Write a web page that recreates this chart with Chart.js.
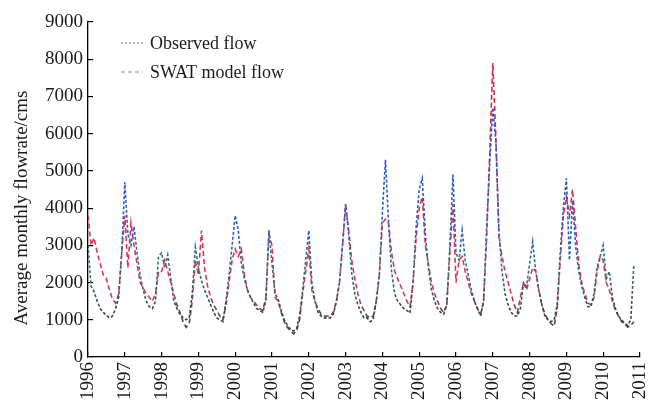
<!DOCTYPE html>
<html>
<head>
<meta charset="utf-8">
<script src="https://cdn.jsdelivr.net/npm/chart.js@4.4.1/dist/chart.umd.min.js"></script>
<style>
  html, body { margin: 0; padding: 0; background: #fff; }
  #wrap { width: 648px; height: 407px; position: relative; }
</style>
</head>
<body>
<div id="wrap"><canvas id="flowChart"></canvas></div>
<script>
// ============================================
// DATA — monthly flow, Jan 1996 .. Nov 2010
// ============================================
const startYear = 1996;
const yearTicks = [1996, 1997, 1998, 1999, 2000, 2001, 2002, 2003, 2004, 2005, 2006, 2007, 2008, 2009, 2010, 2011];
const seriesNames = ['Observed flow', 'SWAT model flow'];
const yTitle = 'Average monthly flowrate/cms';

const observedFlow = [
    3000, 1900, 1750, 1500, 1300, 1200, 1120, 1050, 1100, 1300, 1600, 2800,   // 1996
    4700, 3300, 3000, 3500, 2800, 2200, 1800, 1500, 1350, 1300, 1500, 2700,   // 1997
    2800, 2400, 2750, 2100, 1500, 1300, 1150, 1050, 1000, 1050, 1700, 2950,   // 1998
    2400, 2050, 1800, 1600, 1400, 1200, 1050, 1000, 950, 1500, 2200, 3000,    // 1999
    3800, 3400, 2500, 2100, 1800, 1600, 1450, 1300, 1250, 1200, 1500, 3400,   // 2000
    2500, 1700, 1550, 1250, 1000, 850, 750, 700, 750, 1100, 1800, 2600,       // 2001
    3400, 2000, 1500, 1200, 1100, 1050, 1050, 1050, 1150, 1500, 2000, 3000,   // 2002
    4100, 3300, 2250, 1700, 1400, 1200, 1050, 1050, 950, 1000, 1500, 2200,    // 2003
    3900, 5300, 3600, 2300, 1700, 1500, 1400, 1300, 1250, 1180, 2000, 3500,   // 2004
    4500, 4800, 3300, 2400, 1800, 1500, 1300, 1200, 1150, 1400, 3000, 4900,   // 2005
    2800, 2600, 3400, 2600, 2200, 1800, 1500, 1300, 1100, 1500, 3500, 5200,   // 2006
    6700, 5800, 3400, 2300, 1700, 1400, 1200, 1100, 1100, 1300, 2000, 1900,   // 2007
    2500, 3100, 2300, 1800, 1400, 1100, 1000, 950, 1000, 1400, 2800, 4000,    // 2008
    4800, 2600, 4200, 3000, 2300, 1900, 1600, 1350, 1350, 1700, 2400, 2700,   // 2009
    3000, 2100, 2300, 1600, 1300, 1100, 1000, 900, 850, 1000, 2500            // 2010
];

const swatFlow = [
    3800, 3000, 3200, 2800, 2500, 2200, 2100, 1800, 1550, 1450, 1700, 2800,   // 1996
    3800, 2400, 3600, 3000, 2500, 2000, 1850, 1700, 1600, 1500, 1700, 2300,   // 1997
    2300, 2600, 2300, 2000, 1700, 1400, 1200, 950, 800, 900, 1500, 2600,      // 1998
    2200, 3400, 2400, 1900, 1600, 1400, 1250, 1100, 1000, 1400, 2000, 2600,   // 1999
    2900, 2700, 2900, 2200, 1800, 1600, 1500, 1400, 1300, 1250, 1600, 3300,   // 2000
    3000, 1600, 1500, 1200, 950, 800, 700, 620, 700, 1000, 1700, 2300,        // 2001
    2900, 1800, 1500, 1300, 1150, 1100, 1100, 1100, 1200, 1500, 2000, 3000,   // 2002
    4100, 3400, 2600, 2100, 1700, 1400, 1250, 1100, 1050, 1100, 1500, 2200,   // 2003
    3600, 3700, 3600, 2800, 2300, 2100, 1900, 1700, 1500, 1350, 2000, 3200,   // 2004
    4000, 4300, 3000, 2500, 2000, 1700, 1500, 1300, 1200, 1400, 2800, 4100,   // 2005
    2000, 2600, 2700, 2300, 2000, 1700, 1500, 1300, 1150, 1500, 3200, 5500,   // 2006
    7900, 5900, 3200, 2700, 2300, 2000, 1700, 1400, 1200, 1600, 2000, 1800,   // 2007
    2100, 2400, 2300, 1800, 1400, 1150, 1000, 900, 830, 1300, 2600, 3800,     // 2008
    4300, 3800, 4500, 3500, 2500, 2000, 1700, 1450, 1400, 1600, 2300, 2700,   // 2009
    2600, 2000, 1800, 1500, 1250, 1100, 950, 900, 800, 850, 950               // 2010
];

const toPoints = arr => arr.map((v, i) => ({ x: startYear + i / 12, y: v }));

// vertical colour ramp, low flow grey -> high flow colour
function flowGradient(stops) {
    return function(ctx) {
        const chart = ctx.chart;
        const { chartArea, scales } = chart;
        if (!chartArea || !scales.y) return stops[stops.length - 1][1];
        const y = scales.y;
        const top = y.getPixelForValue(y.max), bottom = y.getPixelForValue(y.min);
        const g = chart.ctx.createLinearGradient(0, bottom, 0, top);
        stops.forEach(([v, c]) => g.addColorStop(v / y.max, c));
        return g;
    };
}

const serif = '"Liberation Serif", "Times New Roman", serif';

// legend inside the plot (top-left) + y axis title, a bit below centre like the original
const innerLegend = {
    id: 'innerLegend',
    afterDraw(chart) {
        const c = chart.ctx;
        const rows = [
            { text: seriesNames[0], dash: [2, 2], y: 43 },
            { text: seriesNames[1], dash: [4, 3], y: 72 }
        ];
        c.save();
        c.font = '18px ' + serif;
        c.textBaseline = 'middle';
        c.fillStyle = '#1a1a1a';
        rows.forEach(r => {
            c.strokeStyle = '#888';
            c.lineWidth = 1.2;
            c.setLineDash(r.dash);
            c.beginPath();
            c.moveTo(121, r.y);
            c.lineTo(143, r.y);
            c.stroke();
            c.fillText(r.text, 150, r.y + 1);
        });
        c.setLineDash([]);
        c.translate(22, 208);
        c.rotate(-Math.PI / 2);
        c.textAlign = 'center';
        c.font = '19px ' + serif;
        c.fillText(yTitle, 0, 0);
        c.restore();
    }
};

document.addEventListener('DOMContentLoaded', () => {
    const ctx = document.getElementById('flowChart').getContext('2d');

    new Chart(ctx, {
        type: 'line',
        data: {
            datasets: [
                {
                    label: seriesNames[0],
                    data: toPoints(observedFlow),
                    borderColor: flowGradient([[0, '#3b403e'], [1300, '#3e4a46'], [2300, '#2f7a68'], [3300, '#2f5fbc'], [9000, '#2a46cc']]),
                    borderWidth: 1.6,
                    borderDash: [3, 2],
                    pointRadius: 0,
                    tension: 0,
                    fill: false
                },
                {
                    label: seriesNames[1],
                    data: toPoints(swatFlow),
                    borderColor: flowGradient([[0, '#3f3f3f'], [1100, '#584448'], [1700, '#d83a58'], [9000, '#d6243a']]),
                    borderWidth: 1.6,
                    borderDash: [5, 3],
                    pointRadius: 0,
                    tension: 0,
                    fill: false
                }
            ]
        },
        options: {
            responsive: true,
            maintainAspectRatio: false,
            animation: false,
            layout: { padding: { top: 22, right: 8, left: 0, bottom: 0 } },
            plugins: {
                legend: { display: false },
                tooltip: { enabled: false }
            },
            scales: {
                x: {
                    type: 'linear',
                    min: yearTicks[0],
                    max: yearTicks[yearTicks.length - 1],
                    afterBuildTicks: s => { s.ticks = yearTicks.map(v => ({ value: v })); },
                    afterFit: s => { s.height = 50; s.paddingLeft = 0; s.paddingRight = 0; },
                    grid: { drawOnChartArea: false, drawTicks: true, tickLength: -5, color: '#000', lineWidth: 1.2 },
                    border: { display: true, color: '#000', width: 1.3 },
                    ticks: {
                        color: '#1a1a1a',
                        font: { family: serif, size: 19 },
                        padding: 10,
                        minRotation: 90,
                        maxRotation: 90,
                        autoSkip: false,
                        callback: v => String(v)
                    }
                },
                y: {
                    min: 0,
                    max: 9000,
                    afterFit: s => { s.width = 88; },
                    grid: { drawOnChartArea: false, drawTicks: true, tickLength: -5, color: '#000', lineWidth: 1.2 },
                    border: { display: true, color: '#000', width: 1.3 },
                    ticks: {
                        stepSize: 1000,
                        color: '#1a1a1a',
                        font: { family: serif, size: 19 },
                        padding: 10,
                        callback: v => String(v)
                    }
                }
            }
        },
        plugins: [innerLegend]
    });
});
</script>
</body>
</html>
